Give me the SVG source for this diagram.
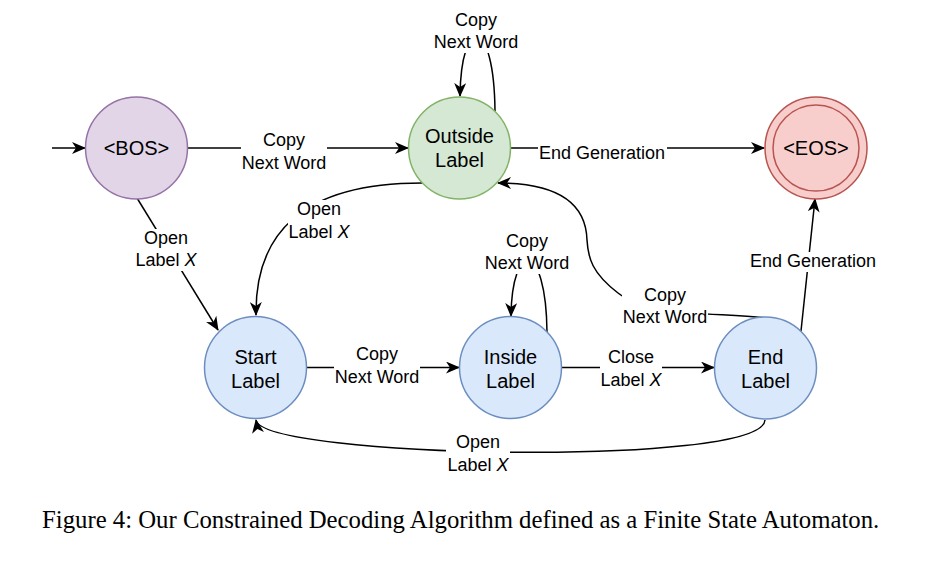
<svg xmlns="http://www.w3.org/2000/svg" width="930" height="561" viewBox="0 0 930 561">
<defs>
<marker id="arr" viewBox="0 0 14 12" refX="13" refY="6" markerWidth="14" markerHeight="12" markerUnits="userSpaceOnUse" orient="auto">
<path d="M0,0 L14,6 L0,12 L4,6 Z" fill="#000"/>
</marker>
<style>
.edge{fill:none;stroke:#000;stroke-width:1.5}
.arrow{marker-end:url(#arr)}
.lbg{fill:#fff}
.t{font-family:"Liberation Sans",Arial,Helvetica,sans-serif;font-size:18px;fill:#000;text-anchor:middle}
.n{font-family:"Liberation Sans",Arial,Helvetica,sans-serif;font-size:20px;fill:#000;text-anchor:middle}
.purple{fill:#e1d5e7;stroke:#9673a6;stroke-width:1.5}
.green{fill:#d5e8d4;stroke:#82b366;stroke-width:1.5}
.red{fill:#f8cecc;stroke:#b85450;stroke-width:1.5}
.blue{fill:#dae8fc;stroke:#6c8ebf;stroke-width:1.5}
.cap{font-family:"Liberation Serif","Times New Roman",serif;font-size:24.75px;fill:#000}
</style>
</defs>
<rect width="930" height="561" fill="#fff"/>

<g id="connectors">
<path class="edge arrow" d="M52,148 L85,148"/>
<path class="edge arrow" d="M188,148 L408,148"/>
<path class="edge arrow" d="M495,111 C494,15 461,15 460,96"/>
<path class="edge arrow" d="M511,148 L764,148"/>
<path class="edge arrow" d="M137,198 L218,330"/>
<path class="edge arrow" d="M422,183 C300,183 255,235 256,315"/>
<path class="edge arrow" d="M766,318 C720,312 650,318 618,293 C592,273 588,258 587,240 C586,205 560,183 498,183"/>
<path class="edge arrow" d="M801,331 L815,199"/>
<path class="edge arrow" d="M307,367.5 L459,367.5"/>
<path class="edge arrow" d="M547,332 C546,240 512,240 511,316"/>
<path class="edge arrow" d="M562,367.5 L714,367.5"/>
<path class="edge arrow" d="M765,420 C762,468 262,458 256,420"/>

<g id="edge-labels">
<rect class="lbg" x="241" y="131" width="86" height="43"/>
<text class="t" x="284" y="146">Copy<tspan x="284" y="169">Next Word</tspan></text>
<rect class="lbg" x="433" y="11" width="86" height="42"/>
<text class="t" x="476" y="26">Copy<tspan x="476" y="48">Next Word</tspan></text>
<rect class="lbg" x="538" y="144" width="129" height="20"/>
<text class="t" x="602" y="159">End Generation</text>
<rect class="lbg" x="622" y="286" width="86" height="42"/>
<text class="t" x="665" y="301">Copy<tspan x="665" y="323">Next Word</tspan></text>
<rect class="lbg" x="749" y="252" width="128" height="20"/>
<text class="t" x="813" y="267">End Generation</text>
<rect class="lbg" x="135" y="229" width="62" height="42"/>
<text class="t" x="166" y="244">Open<tspan x="166" y="266">Label <tspan font-style="italic">X</tspan></tspan></text>
<rect class="lbg" x="288" y="200" width="62" height="43"/>
<text class="t" x="319" y="215">Open<tspan x="319" y="238">Label <tspan font-style="italic">X</tspan></tspan></text>
<rect class="lbg" x="334" y="345" width="86" height="43"/>
<text class="t" x="377" y="360">Copy<tspan x="377" y="383">Next Word</tspan></text>
<rect class="lbg" x="484" y="232" width="86" height="42"/>
<text class="t" x="527" y="247">Copy<tspan x="527" y="269">Next Word</tspan></text>
<rect class="lbg" x="600" y="348" width="62" height="43"/>
<text class="t" x="631" y="363">Close<tspan x="631" y="386">Label <tspan font-style="italic">X</tspan></tspan></text>
<rect class="lbg" x="446" y="433" width="64" height="43"/>
<text class="t" x="478" y="448">Open<tspan x="478" y="471">Label <tspan font-style="italic">X</tspan></tspan></text>
</g>
</g>

<g id="node-bos">
<circle class="purple" cx="136.5" cy="148" r="51"/>
<text class="n" x="136.5" y="155">&lt;BOS&gt;</text>
</g>
<g id="node-outside">
<circle class="green" cx="459.5" cy="148" r="51"/>
<text class="n" x="459.5" y="142.5">Outside<tspan x="459.5" y="167">Label</tspan></text>
</g>
<g id="node-eos">
<circle class="red" cx="816" cy="148" r="51"/>
<circle fill="none" stroke="#b85450" stroke-width="1.5" cx="816" cy="148" r="43"/>
<text class="n" x="816" y="155">&lt;EOS&gt;</text>
</g>
<g id="node-start">
<circle class="blue" cx="255.5" cy="367.5" r="51"/>
<text class="n" x="255.5" y="363.5">Start<tspan x="255.5" y="388">Label</tspan></text>
</g>
<g id="node-inside">
<circle class="blue" cx="510.5" cy="367.5" r="51"/>
<text class="n" x="510.5" y="363.5">Inside<tspan x="510.5" y="388">Label</tspan></text>
</g>
<g id="node-end">
<circle class="blue" cx="765.5" cy="368" r="51"/>
<text class="n" x="765.5" y="363.5">End<tspan x="765.5" y="388">Label</tspan></text>
</g>

<text class="cap" x="42" y="528">Figure 4: Our Constrained Decoding Algorithm defined as a Finite State Automaton.</text>
</svg>
